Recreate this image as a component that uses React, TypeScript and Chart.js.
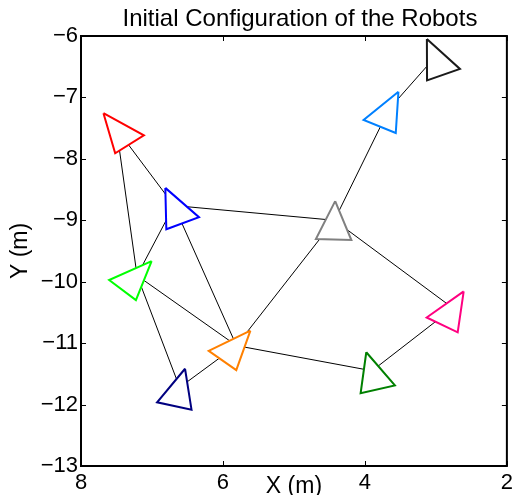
import React, { useEffect, useRef } from 'react';
import { Chart, registerables } from 'chart.js';

Chart.register(...registerables);

// ---- Data ----
const chartTitle = 'Initial Configuration of the Robots';
const xAxisTitle = 'X (m)';
const yAxisTitle = 'Y (m)';

const robotNames = ['Black', 'LightBlue', 'Red', 'Blue', 'Grey', 'Green', 'Magenta', 'Orange', 'DarkGreen', 'Navy'];
const robotX = [3.01, 3.66, 7.5, 6.69, 4.43, 7.21, 2.76, 5.81, 3.9, 6.61];
const robotY = [-6.34, -7.19, -7.51, -8.76, -9.0, -9.9, -10.43, -11.04, -11.45, -11.72];
const robotHeading = [68, 115, 54, 67, 92, 131, 119, 129, 75, 104]; // degrees, in data space
const robotColors = ['#1a1a1a', '#0080ff', '#ff0000', '#0000ff', '#808080', '#00ff00', '#ff0080', '#ff8000', '#008000', '#000080'];

// communication links (indices into the robot arrays)
const linkFrom = [0, 1, 2, 2, 3, 3, 3, 5, 5, 4, 4, 7, 7, 6];
const linkTo = [1, 4, 3, 5, 4, 5, 7, 7, 9, 7, 6, 8, 9, 8];

const xMin = 2;
const xMax = 8;
const xStep = 2;
const yMin = -13;
const yMax = -6;
const yStep = 1;

// triangle glyph size (data units)
const TRI_LENGTH = 0.625;
const TRI_WIDTH = 0.5;

const FONT = '"Liberation Sans", Arial, Helvetica, sans-serif';

function triangle(i: number) {
  const x = robotX[i];
  const y = robotY[i];
  const t = (robotHeading[i] * Math.PI) / 180;
  const c = Math.cos(t);
  const s = Math.sin(t);
  const h = TRI_LENGTH / 2;
  const w = TRI_WIDTH / 2;
  const apex = { x: x + h * c, y: y + h * s };
  const b1 = { x: x - h * c - w * s, y: y - h * s + w * c };
  const b2 = { x: x - h * c + w * s, y: y - h * s - w * c };
  return [apex, b1, b2, apex];
}

const minusFmt = (v: number | string) => {
  const n = Number(v);
  return n < 0 ? '\u2212' + Math.abs(n) : String(n);
};

const titlePlugin = {
  id: 'matlabTitle',
  afterDraw(chart: any) {
    const { ctx, chartArea } = chart;
    ctx.save();
    ctx.fillStyle = '#000';
    ctx.font = `24px ${FONT}`;
    ctx.textAlign = 'center';
    ctx.textBaseline = 'alphabetic';
    ctx.fillText(chartTitle, (chartArea.left + chartArea.right) / 2 + 6, chartArea.top - 10);
    ctx.restore();
  },
};

const framePlugin = {
  id: 'matlabFrame',
  afterDatasetsDraw(chart: any) {
    const { ctx, chartArea, scales } = chart;
    const { left, right, top, bottom } = chartArea;
    const xs = scales.x;
    const ys = scales.y;
    const tl = 5;
    ctx.save();
    ctx.strokeStyle = '#000';
    ctx.lineWidth = 1;
    ctx.beginPath();
    xs.ticks.forEach((t: any) => {
      const px = Math.round(xs.getPixelForValue(t.value)) + 0.5;
      ctx.moveTo(px, bottom);
      ctx.lineTo(px, bottom - tl);
      ctx.moveTo(px, top);
      ctx.lineTo(px, top + tl);
    });
    ys.ticks.forEach((t: any) => {
      const py = Math.round(ys.getPixelForValue(t.value)) + 0.5;
      ctx.moveTo(left, py);
      ctx.lineTo(left + tl, py);
      ctx.moveTo(right, py);
      ctx.lineTo(right - tl, py);
    });
    ctx.stroke();
    ctx.lineWidth = 2;
    ctx.strokeRect(left, top, right - left, bottom - top);
    ctx.restore();
  },
};

export default function App() {
  const canvasRef = useRef<HTMLCanvasElement | null>(null);

  useEffect(() => {
    if (!canvasRef.current) return;

    const triangleSets = robotNames.map((name, i) => ({
      label: name,
      data: triangle(i),
      borderColor: robotColors[i],
      backgroundColor: '#ffffff',
      borderWidth: 2,
      borderJoinStyle: 'miter' as const,
      fill: 'shape' as const,
      pointRadius: 0,
      tension: 0,
      order: 0,
    }));

    const linkSets = linkFrom.map((a, k) => {
      const b = linkTo[k];
      return {
        label: `${robotNames[a]}-${robotNames[b]}`,
        data: [
          { x: robotX[a], y: robotY[a] },
          { x: robotX[b], y: robotY[b] },
        ],
        borderColor: '#000000',
        backgroundColor: '#000000',
        borderWidth: 1,
        fill: false,
        pointRadius: 0,
        tension: 0,
        order: 1,
      };
    });

    const chart = new Chart(canvasRef.current, {
      type: 'line',
      data: { datasets: [...triangleSets, ...linkSets] as any },
      options: {
        animation: false,
        responsive: false,
        devicePixelRatio: 1,
        events: [],
        layout: { padding: { top: 36, right: 7, bottom: 0, left: 0 } },
        plugins: {
          legend: { display: false },
          tooltip: { enabled: false },
          title: { display: false },
        },
        scales: {
          x: {
            type: 'linear',
            reverse: true,
            min: xMin,
            max: xMax,
            ticks: {
              stepSize: xStep,
              color: '#000',
              font: { family: FONT, size: 22 },
              padding: 4,
              maxRotation: 0,
              autoSkip: false,
              callback: minusFmt,
            },
            grid: { display: false, drawTicks: false },
            border: { display: false },
            title: {
              display: true,
              text: xAxisTitle,
              color: '#000',
              font: { family: FONT, size: 23 },
              padding: { top: 0, bottom: -5 },
            },
            afterFit: (s: any) => {
              s.height = 29;
            },
          },
          y: {
            type: 'linear',
            min: yMin,
            max: yMax,
            ticks: {
              stepSize: yStep,
              color: '#000',
              font: { family: FONT, size: 22 },
              padding: 3,
              autoSkip: false,
              callback: minusFmt,
            },
            grid: { display: false, drawTicks: false },
            border: { display: false },
            title: {
              display: true,
              text: yAxisTitle,
              color: '#000',
              font: { family: FONT, size: 23 },
              padding: { top: 7, bottom: 0 },
            },
            afterFit: (s: any) => {
              s.width = 81;
            },
          },
        },
      } as any,
      plugins: [framePlugin, titlePlugin],
    });

    return () => chart.destroy();
  }, []);

  return (
    <div style={{ position: 'fixed', left: 0, top: 0, width: 517, height: 495, background: '#fff' }}>
      <canvas ref={canvasRef} width={517} height={495} />
    </div>
  );
}
